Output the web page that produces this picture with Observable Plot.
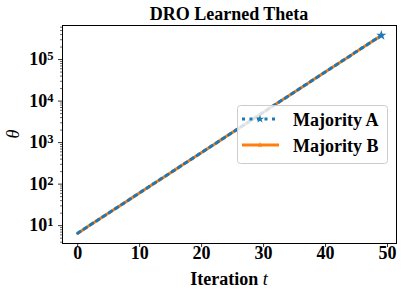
<!DOCTYPE html>
<html>
<head>
<meta charset="utf-8">
<script src="https://cdn.jsdelivr.net/npm/d3@7"></script>
<script src="https://cdn.jsdelivr.net/npm/@observablehq/plot@0.6"></script>
<style>
  html, body { margin: 0; padding: 0; background: white; }
  #chart svg { display: block; }
</style>
</head>
<body>
<div id="chart"></div>
<script>
const iterations = [0,1,2,3,4,5,6,7,8,9,10,11,12,13,14,15,16,17,18,19,20,21,22,23,24,25,26,27,28,29,30,31,32,33,34,35,36,37,38,39,40,41,42,43,44,45,46,47,48,49];
const majorityA = [6.59,8.25,10.31,12.90,16.13,20.17,25.23,31.56,39.48,49.36,61.74,77.23,96.58,120.8,151.1,189.0,236.4,295.6,369.8,462.4,578.4,723.5,904.6,1131.6,1415,1770,2214,2769,3464,4331,5418,6776,8475,10600,13256,16582,20741,25940,32447,40575,50750,63475,79378,99289,124165,155306,194254,242927,303850,380100];
const majorityB = [6.59,8.25,10.31,12.90,16.13,20.17,25.23,31.56,39.48,49.36,61.74,77.23,96.58,120.8,151.1,189.0,236.4,295.6,369.8,462.4,578.4,723.5,904.6,1131.6,1415,1770,2214,2769,3464,4331,5418,6776,8475,10600,13256,16582,20741,25940,32447,40575,50750,63475,79378,99289,124165,155306,194254,242927,303850,380100];
const seriesNames = ["Majority A", "Majority B"];
const xTicks = [0,10,20,30,40,50];
const yTicks = [10,100,1000,10000,100000];
const yExponents = ["1","2","3","4","5"];
const markerIdx = [49];
const title = "DRO Learned Theta";

const colA = "#1f77b4", colB = "#ff7f0e";
const yDomain = [3.72, 660700];
const rowsA = iterations.map((t,i) => ({t, v: majorityA[i]}));
const rowsB = iterations.map((t,i) => ({t, v: majorityB[i]}));
const markA = markerIdx.map(i => rowsA[i]);
const markB = markerIdx.map(i => rowsB[i]);
const minor = [];
for (let k = 0; k <= 5; k++) for (let m = 2; m <= 9; m++) {
  const v = m * Math.pow(10, k);
  if (v >= yDomain[0] && v <= yDomain[1]) minor.push(v);
}

const font = "Liberation Serif";
const tickText = {fontFamily: font, fontSize: 18, fontWeight: "bold"};
const plot = Plot.plot({
  width: 403, height: 295,
  marginLeft: 62, marginRight: 7, marginTop: 25, marginBottom: 52,
  style: {fontFamily: font, fontSize: "16px", background: "white", color: "black"},
  x: {domain: [-2.45, 51.45], label: null},
  y: {type: "log", domain: yDomain, label: null},
  marks: [
    Plot.axisX({ticks: xTicks, tickSize: 4, label: null, tickFormat: () => "", strokeWidth: 0.8}),
    Plot.axisY({ticks: yTicks, tickSize: 4, label: null, tickFormat: () => "", strokeWidth: 0.8}),
    Plot.axisY({ticks: minor, tickSize: 2, label: null, tickFormat: () => "", strokeWidth: 0.6}),
    Plot.text(xTicks, {x: d => d, frameAnchor: "bottom", dy: 15, text: d => String(d), textAnchor: "middle", fill: "black", ...tickText}),
    Plot.text(yTicks, {y: d => d, frameAnchor: "left", dx: -9, text: () => "10", textAnchor: "end", fill: "#010101", ...tickText}),
    Plot.line(rowsB, {x: "t", y: "v", stroke: colB, strokeWidth: 3}),
    Plot.dot(markB, {x: "t", y: "v", symbol: "star", r: 1.8, fill: colB}),
    Plot.line(rowsA, {x: "t", y: "v", stroke: colA, strokeWidth: 3, strokeDasharray: "3,4.5"}),
    Plot.dot(markA, {x: "t", y: "v", symbol: "star", r: 3.2, fill: colA}),
    Plot.frame({stroke: "black", strokeWidth: 1})
  ]
});
document.getElementById("chart").appendChild(plot);

const svg = d3.select(plot);
svg.selectAll('g[fill="#010101"] text').each(function(d, i) {
  const el = d3.select(this);
  el.append("tspan").attr("dy", "-0.42em").style("font-size", "12.5px").text(yExponents[i]);
});
svg.append("text").attr("x", 229).attr("y", 20).attr("text-anchor", "middle")
  .attr("font-family", font).attr("font-weight", "bold").attr("font-size", "18px").text(title);
const xl = svg.append("text").attr("x", 229).attr("y", 285).attr("text-anchor", "middle")
  .attr("font-family", font).attr("font-weight", "bold").attr("font-size", "18px");
xl.append("tspan").text("Iteration ");
xl.append("tspan").attr("font-style", "italic").attr("font-weight", "normal").text("t");
svg.append("text").attr("transform", "translate(19,134) rotate(-90)").attr("text-anchor", "middle")
  .attr("font-family", font).attr("font-style", "italic").attr("font-weight", "normal").attr("font-size", "18px").text("θ");
const lg = svg.append("g");
lg.append("rect").attr("x", 237.5).attr("y", 105.5).attr("width", 150).attr("height", 58).attr("rx", 3)
  .attr("fill", "white").attr("fill-opacity", 0.8).attr("stroke", "#cccccc");
const entries = [{name: seriesNames[0], color: colA, dash: "3,4.5", y: 119, r: 2.6},
                 {name: seriesNames[1], color: colB, dash: null, y: 145, r: 1.8}];
entries.forEach(e => {
  lg.append("line").attr("x1", 242).attr("x2", 279).attr("y1", e.y).attr("y2", e.y)
    .attr("stroke", e.color).attr("stroke-width", 3).attr("stroke-dasharray", e.dash);
  lg.append("path").attr("d", d3.symbol(d3.symbolStar, Math.PI * e.r * e.r)()).attr("transform", `translate(260,${e.y})`).attr("fill", e.color);
  lg.append("text").attr("x", 293).attr("y", e.y + 7).attr("text-anchor", "start").attr("font-family", font).attr("font-weight", "bold")
    .attr("font-size", "18px").text(e.name);
});
</script>
</body>
</html>
